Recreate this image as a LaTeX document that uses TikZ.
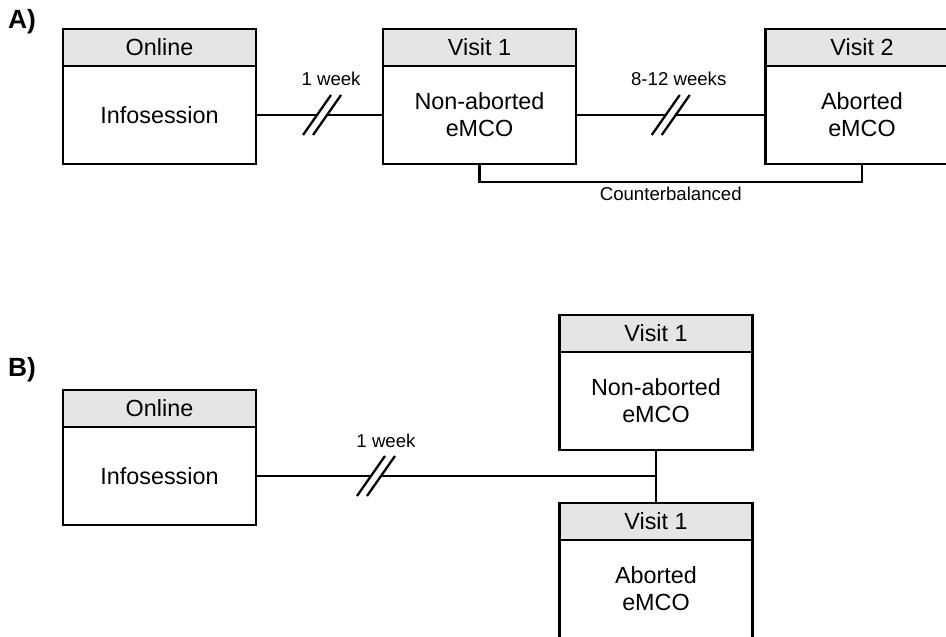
\documentclass[tikz,border=0pt]{standalone}
\usepackage{fontspec}
\setmainfont{Liberation Sans}
\usetikzlibrary{calc,positioning}

% double slash on a link, centred on a named coordinate
\newcommand{\gapmark}[1]{%
  \draw[link] ($(#1)+(-19,20)$) -- ++(28,-40);
  \draw[link] ($(#1)+(-9,20)$) -- ++(28,-40);
}

\begin{document}
\begin{tikzpicture}[x=0.02cm, y=-0.02cm, line cap=butt, line join=miter,
  head/.style={draw, line width=1.5pt, fill=gray!20, minimum width=3.86cm, minimum height=0.74cm,
    inner sep=0pt, outer sep=0pt, font=\fontsize{13.3}{15.3}\selectfont},
  body/.style={draw, line width=1.5pt, minimum width=3.86cm, minimum height=1.96cm,
    inner sep=0pt, outer sep=0pt, align=center, font=\fontsize{13.3}{15.3}\selectfont, below=0pt of #1},
  link/.style={line width=1.3pt},
  lbl/.style={font=\fontsize{10.6}{12}\selectfont},
  panel/.style={font=\fontsize{15}{17}\selectfont\bfseries}]

  \useasboundingbox (0,0) rectangle (946,636);

  % panel A 
  \node[panel] (labA) at (22,22) {A)};

  \node[head] (onlineAh) at (159.5,47.5) {Online};
  \node[body=onlineAh] (onlineA) {Infosession};
  \node[head] (visit1Ah) at (479.5,47.5) {Visit 1};
  \node[body=visit1Ah] (visit1A) {Non-aborted\\eMCO};
  \node[head] (visit2Ah) at (862,47.5) {Visit 2};
  \node[body=visit2Ah] (visit2A) {Aborted\\eMCO};

  % links with time gaps
  \path (onlineA.east) -- (visit1A.west) coordinate[pos=0.52] (brkA1);
  \path (visit1A.east) -- (visit2A.west) coordinate[pos=0.5] (brkA2);
  \draw[link] (onlineA.east) -- ($(brkA1)+(-5,0)$);
  \draw[link] ($(brkA1)+(5,0)$) -- (visit1A.west);
  \draw[link] (visit1A.east) -- ($(brkA2)+(-5,0)$);
  \draw[link] ($(brkA2)+(5,0)$) -- (visit2A.west);
  \gapmark{brkA1}
  \gapmark{brkA2}
  \node[lbl] (wkA1) at ($(brkA1)+(9,-36)$) {1 week};
  \node[lbl] (wkA2) at ($(brkA2)+(8,-36)$) {8-12 weeks};

  % counterbalance bracket
  \draw[link] (visit1A.south) -- ++(0,18) -| (visit2A.south)
    node[lbl, pos=0.25, below=-1pt] (cbA) {Counterbalanced};

  % panel B 
  \node[panel] (labB) at (22,370) {B)};

  \node[head] (onlineBh) at (159.5,408.5) {Online};
  \node[body=onlineBh] (onlineB) {Infosession};
  \node[head] (visit1Bh) at (656,333.5) {Visit 1};
  \node[body=visit1Bh] (visit1B) {Non-aborted\\eMCO};
  \node[head] (visit2Bh) at (656,521.5) {Visit 1};
  \node[body=visit2Bh] (visit2B) {Aborted\\eMCO};

  \draw[link] (visit1B.south) -- (visit2Bh.north);
  \coordinate (joinB) at (onlineB.east -| visit1B.south);
  \path (onlineB.east) -- (joinB) coordinate[pos=0.3] (brkB);
  \draw[link] (onlineB.east) -- ($(brkB)+(-5,0)$);
  \draw[link] ($(brkB)+(5,0)$) -- (joinB);
  \gapmark{brkB}
  \node[lbl] (wkB) at ($(brkB)+(10,-35)$) {1 week};

\end{tikzpicture}
\end{document}
